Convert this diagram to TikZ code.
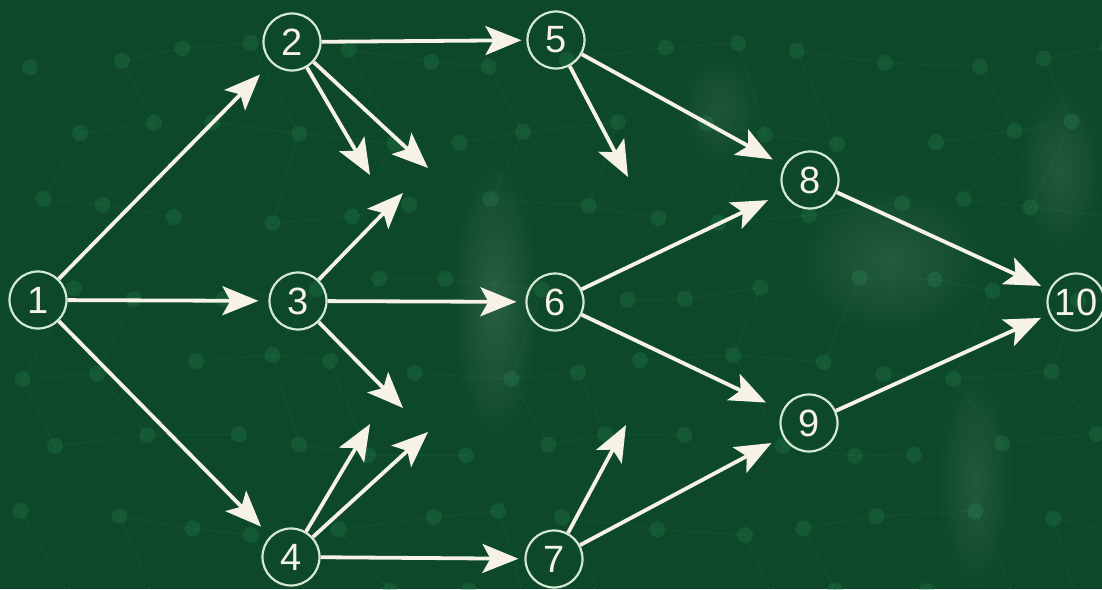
\documentclass[tikz,border=0pt]{standalone}
\usepackage{fontspec}
\setmainfont{Liberation Sans}
\usetikzlibrary{arrows.meta,fadings}

\definecolor{board}{RGB}{13,72,42}
\definecolor{chalk}{RGB}{246,242,230}
\definecolor{ring}{RGB}{212,232,210}
\definecolor{netgreen}{RGB}{40,135,78}

\tikzfading[name=softspot, inner color=transparent!0, outer color=transparent!100]

\begin{document}
\begin{tikzpicture}[x=1pt,y=-1pt,
  event/.style={circle, draw=ring, line width=2.2pt, minimum size=57pt,
    inner sep=0pt, text=chalk, font=\fontsize{38}{40}\selectfont},
  act/.style={draw=chalk, line width=3.8pt,
    -{Stealth[length=36pt,width=29pt,inset=8pt]}},
  net/.style={draw=netgreen, line width=1.1pt, opacity=0.14},
  netdot/.style={fill=netgreen, opacity=0.28},
  haze/.style={fill=white, path fading=softspot},
]
\useasboundingbox (0,0) rectangle (1102,589);
\fill[board] (0,0) rectangle (1102,589);

% faint network pattern on the board
\foreach \j in {0,...,7}{
  \foreach \i in {0,...,14}{
    \pgfmathsetmacro\px{30+78*\i+39*mod(\j,2)+14*sin(97*\i+53*\j)}
    \pgfmathsetmacro\py{55+78*\j+12*cos(61*\i+89*\j)}
    \coordinate (p-\i-\j) at (\px,\py);
  }
}
\foreach \j in {0,...,7}{
  \foreach \i in {0,...,14}{
    \pgfmathtruncatemacro\ni{\i+1}
    \pgfmathtruncatemacro\nj{\j+1}
    \pgfmathtruncatemacro\ka{mod(\i+2*\j,3)}
    \pgfmathtruncatemacro\kb{mod(\i*\j+\i+\j,3)}
    \ifnum\i<14 \ifnum\ka>0 \draw[net] (p-\i-\j) -- (p-\ni-\j); \fi\fi
    \ifnum\j<7 \ifnum\kb<2 \draw[net] (p-\i-\j) -- (p-\i-\nj); \fi\fi
    \fill[netdot] (p-\i-\j) circle[radius=8pt];
  }
}

% chalk smudges
\fill[haze, opacity=0.12] (495,300) ellipse [x radius=45pt, y radius=150pt];
\fill[haze, opacity=0.10] (890,260) ellipse [x radius=100pt, y radius=80pt];
\fill[haze, opacity=0.09] (1060,170) ellipse [x radius=45pt, y radius=90pt];
\fill[haze, opacity=0.09] (975,480) ellipse [x radius=40pt, y radius=120pt];
\fill[haze, opacity=0.07] (720,110) ellipse [x radius=45pt, y radius=65pt];

% events
\node[event] (n1)  at (38,300)   {1};
\node[event] (n2)  at (292,42)   {2};
\node[event] (n3)  at (298,301)  {3};
\node[event] (n4)  at (291,557)  {4};
\node[event] (n5)  at (556,40)   {5};
\node[event] (n6)  at (555,302)  {6};
\node[event] (n7)  at (554,559)  {7};
\node[event] (n8)  at (810,180)  {8};
\node[event] (n9)  at (809,423)  {9};
\node[event] (n10) at (1076,302) {10};

% loose ends of activities
\coordinate (s2a) at (370,175);
\coordinate (s2b) at (428,168);
\coordinate (s3a) at (403,193);
\coordinate (s3b) at (403,408);
\coordinate (s4a) at (370,424);
\coordinate (s4b) at (428,432);
\coordinate (s5)  at (628,177);
\coordinate (s7)  at (626,425);

% activities
\draw[act, shorten >=16pt] (n1) -- (n2);
\draw[act, shorten >=10pt] (n1) -- (n3);
\draw[act, shorten >=13pt] (n1) -- (n4);
\draw[act, shorten >=5pt]  (n2) -- (n5);
\draw[act] (n2) -- (s2a);
\draw[act] (n2) -- (s2b);
\draw[act] (n3) -- (s3a);
\draw[act] (n3) -- (s3b);
\draw[act, shorten >=9pt]  (n3) -- (n6);
\draw[act] (n4) -- (s4a);
\draw[act] (n4) -- (s4b);
\draw[act, shorten >=6pt]  (n4) -- (n7);
\draw[act] (n5) -- (s5);
\draw[act, shorten >=13pt] (n5) -- (n8);
\draw[act, shorten >=17pt] (n6) -- (n8);
\draw[act, shorten >=18pt] (n6) -- (n9);
\draw[act] (n7) -- (s7);
\draw[act, shorten >=13pt] (n7) -- (n9);
\draw[act, shorten >=9pt]  (n8) -- (n10);
\draw[act, shorten >=9pt]  (n9) -- (n10);
\end{tikzpicture}
\end{document}
